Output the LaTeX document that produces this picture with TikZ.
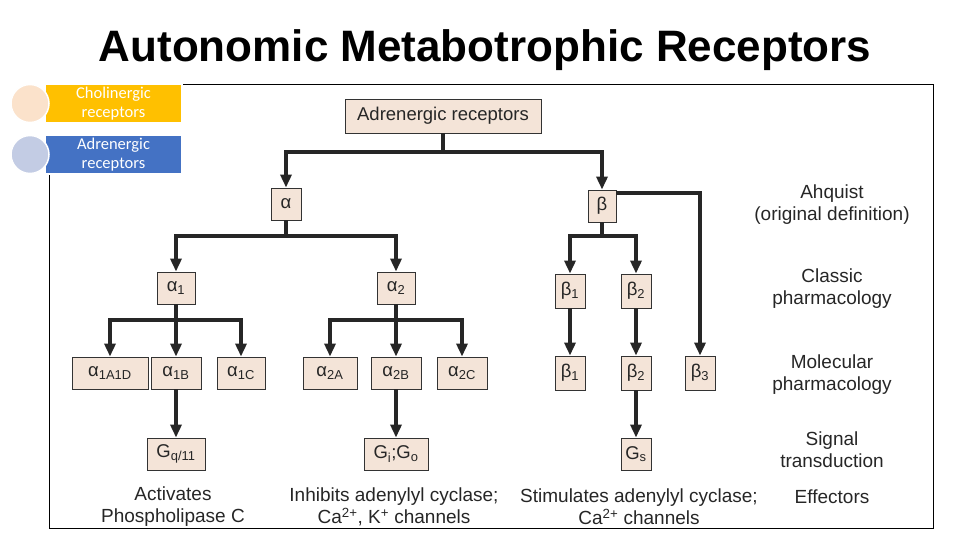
\documentclass[tikz,border=0pt]{standalone}
\usepackage{fontspec}
\setmainfont{Liberation Sans}
\newfontfamily\tabfont{Carlito}
\usetikzlibrary{arrows.meta}
\definecolor{boxfill}{HTML}{F4E4D8}
\definecolor{tabyellow}{HTML}{FFC000}
\definecolor{tabblue}{HTML}{4472C4}
\definecolor{dotpeach}{HTML}{FBE2CB}
\definecolor{dotblue}{HTML}{C3CCE4}
\tikzset{
  rbox/.style={draw=black!80,fill=boxfill,line width=0.9pt,minimum height=32pt,inner sep=2pt,font=\fontsize{18.5}{18.5}\selectfont,text=black!85},
  lbl/.style={align=center,font=\fontsize{19}{22}\selectfont,text=black!85},
  link/.style={line width=3.4pt,draw=black!85},
  arr/.style={link,-{Triangle[length=13pt,width=11pt]}},
  tab/.style={minimum width=135pt,minimum height=37pt,inner sep=0pt,align=center,text=white,font=\tabfont\fontsize{16.5}{19}\selectfont}
}
\begin{document}
\begin{tikzpicture}[x=1pt,y=-1pt]
\useasboundingbox (0,0) rectangle (960,540);
% frame and title
\draw[line width=0.8pt] (49,84) rectangle (933,528);
\node[font=\bfseries\fontsize{44}{44}\selectfont] (title) at (485,50) {Autonomic Metabotrophic Receptors};
% tabs
\fill[white] (44,84) rectangle (183,175);
\node[tab,fill=tabyellow] (chol) at (113.5,103.5) {Cholinergic\\receptors};
\node[tab,fill=tabblue] (adr) at (113.5,154.5) {Adrenergic\\receptors};
\fill[dotpeach,draw=white,line width=1.5pt] (30,103.5) circle (19);
\fill[dotblue,draw=white,line width=1.5pt] (30,154.5) circle (19);
% boxes
\node[rbox,minimum width=196pt,minimum height=34pt] (root) at (443,116) {Adrenergic receptors};
\node[rbox,minimum width=30pt] (a) at (286,204) {α};
\node[rbox,minimum width=28pt] (b) at (602,206) {β};
\node[rbox,minimum width=38pt] (a1) at (176,288) {α\textsubscript{1}};
\node[rbox,minimum width=38pt] (a2) at (396,288) {α\textsubscript{2}};
\node[rbox,minimum width=30pt,minimum height=34pt] (b1) at (570,291) {β\textsubscript{1}};
\node[rbox,minimum width=30pt,minimum height=34pt] (b2) at (636,291) {β\textsubscript{2}};
\node[rbox,minimum width=76pt] (a1ad) at (110,373) {α\textsubscript{1A1D}};
\node[rbox,minimum width=50pt] (a1b) at (176,373) {α\textsubscript{1B}};
\node[rbox,minimum width=48pt] (a1c) at (241,373) {α\textsubscript{1C}};
\node[rbox,minimum width=54pt] (a2a) at (330,373) {α\textsubscript{2A}};
\node[rbox,minimum width=50pt] (a2b) at (396,373) {α\textsubscript{2B}};
\node[rbox,minimum width=50pt] (a2c) at (462,373) {α\textsubscript{2C}};
\node[rbox,minimum width=30pt,minimum height=34pt] (mb1) at (570,373) {β\textsubscript{1}};
\node[rbox,minimum width=30pt,minimum height=34pt] (mb2) at (636,373) {β\textsubscript{2}};
\node[rbox,minimum width=30pt,minimum height=34pt] (mb3) at (700,373) {β\textsubscript{3}};
\node[rbox,minimum width=58pt] (gq) at (176,454) {G\textsubscript{q/11}};
\node[rbox,minimum width=64pt] (gi) at (396,454) {G\textsubscript{i};G\textsubscript{o}};
\node[rbox,minimum width=30pt] (gs) at (636,454) {G\textsubscript{s}};
% effectors
\node[lbl] (ef1) at (173,507) {Activates\\Phospholipase C};
\node[lbl] (ef2) at (394,507) {Inhibits adenylyl cyclase;\\Ca\textsuperscript{2+}, K\textsuperscript{+} channels};
\node[lbl] (ef3) at (639,507) {Stimulates adenylyl cyclase;\\Ca\textsuperscript{2+} channels};
% right column
\node[lbl] (l1) at (832,205) {Ahquist\\(original definition)};
\node[lbl] (l2) at (832,289) {Classic\\pharmacology};
\node[lbl] (l3) at (832,375) {Molecular\\pharmacology};
\node[lbl] (l4) at (832,450) {Signal\\transduction};
\node[lbl] (l5) at (832,497) {Effectors};
% connectors
\coordinate (j0) at (443,152);
\draw[link] (root.south) -- (j0);
\draw[arr] (j0) -| (a.north);
\draw[arr] (j0) -| (b.north);
\draw[arr] (b.east |- 0,193) -| (mb3.north);
\coordinate (ja) at (286,236);
\draw[link] (a.south) -- (ja);
\draw[arr] (ja) -| (a1.north);
\draw[arr] (ja) -| (a2.north);
\coordinate (jb) at (602,236);
\draw[link] (b.south) -- (jb);
\draw[arr] (jb) -| (b1.north);
\draw[arr] (jb) -| (b2.north);
\coordinate (ja1) at (176,320);
\draw[arr] (a1.south) -- (a1b.north);
\draw[arr] (ja1) -| (a1ad.north);
\draw[arr] (ja1) -| (a1c.north);
\coordinate (ja2) at (396,320);
\draw[arr] (a2.south) -- (a2b.north);
\draw[arr] (ja2) -| (a2a.north);
\draw[arr] (ja2) -| (a2c.north);
\draw[arr] (b1.south) -- (mb1.north);
\draw[arr] (b2.south) -- (mb2.north);
\draw[arr] (a1b.south) -- (gq.north);
\draw[arr] (a2b.south) -- (gi.north);
\draw[arr] (mb2.south) -- (gs.north);
\end{tikzpicture}
\end{document}
